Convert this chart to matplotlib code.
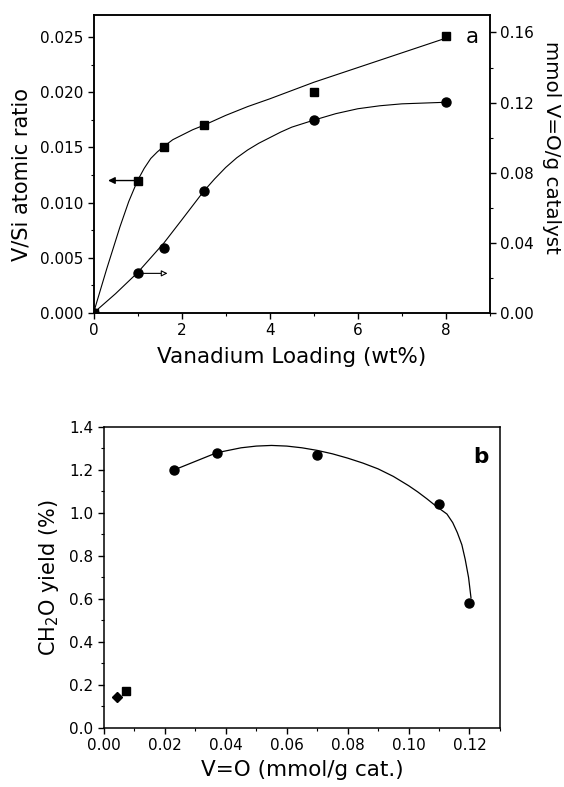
import matplotlib
matplotlib.use('Agg')
import matplotlib.pyplot as plt
from matplotlib.ticker import MultipleLocator, FormatStrFormatter

plt.rcParams['font.family'] = ['DejaVu Sans']

# panel a: V/Si ratio (left axis) and V=O content (right axis) vs loading
loading = [0, 1, 1.6, 2.5, 5, 8]
vsi_ratio = [0.0, 0.0120, 0.0150, 0.0170, 0.0200, 0.0251]
vo_content = [0.0, 0.0226, 0.0368, 0.0694, 0.1098, 0.1202]

# guide curves
vsi_curve_x = [0, 0.3, 0.6, 0.8, 1.0, 1.15, 1.3, 1.45, 1.6, 1.8, 2.0, 2.25, 2.5,
               3.0, 3.5, 4.0, 5.0, 6.5, 8.0]
vsi_curve_y = [0.0, 0.0040, 0.0078, 0.0101, 0.0120, 0.0131, 0.0140, 0.0146,
               0.0151, 0.0157, 0.0161, 0.0166, 0.0170, 0.0179, 0.0187, 0.0194,
               0.0209, 0.0229, 0.0249]
vo_curve_x = [0, 0.5, 1.0, 1.6, 2.0, 2.5, 2.75, 3.0, 3.25, 3.5, 3.75, 4.0, 4.25,
              4.5, 5.0, 5.5, 6.0, 6.5, 7.0, 8.0]
vo_curve_y = [0.0, 0.0110, 0.0230, 0.0400, 0.0530, 0.0694, 0.0765, 0.0830,
              0.0885, 0.0930, 0.0968, 0.1000, 0.1032, 0.1060, 0.1100, 0.1137,
              0.1165, 0.1182, 0.1193, 0.1202]

# panel b: CH2O yield vs V=O content
vo_b = [0.023, 0.037, 0.070, 0.110, 0.120]
yield_b = [1.20, 1.28, 1.27, 1.04, 0.58]
sq_b_x, sq_b_y = [0.0072], [0.174]
dia_b_x, dia_b_y = [0.0042], [0.143]

yield_curve_x = [0.023, 0.030, 0.037, 0.045, 0.050, 0.055, 0.060, 0.065, 0.070,
                 0.075, 0.080, 0.085, 0.090, 0.095, 0.100, 0.103, 0.106, 0.109,
                 0.1126, 0.1145, 0.116, 0.1175, 0.1186, 0.1197, 0.1205]
yield_curve_y = [1.20, 1.24, 1.28, 1.303, 1.311, 1.314, 1.311, 1.303, 1.291,
                 1.275, 1.255, 1.232, 1.205, 1.170, 1.127, 1.098, 1.066, 1.032,
                 0.995, 0.955, 0.909, 0.852, 0.784, 0.700, 0.605]

fig = plt.figure(figsize=(5.64, 7.87), dpi=100)

ax1 = fig.add_axes([0.1658, 0.6023, 0.703, 0.3787])
ax2 = ax1.twinx()
ax3 = fig.add_axes([0.1844, 0.075, 0.702, 0.3825])

for ax in (ax1, ax2, ax3):
    for sp in ax.spines.values():
        sp.set_linewidth(1.1)
    ax.tick_params(which='major', direction='out', length=4, width=1, labelsize=11)
    ax.tick_params(which='minor', direction='out', length=2, width=0.8)

# panel a
ax1.plot(vsi_curve_x, vsi_curve_y, color='black', lw=0.8)
ax1.plot(loading, vsi_ratio, 's', color='black', ms=5.5)
ax2.plot(vo_curve_x, vo_curve_y, color='black', lw=0.8)
ax2.plot(loading, vo_content, 'o', color='black', ms=6.5)

ax1.set_xlim(0, 9)
ax1.set_ylim(0, 0.027)
ax2.set_ylim(0, 0.17)
ax1.xaxis.set_major_locator(MultipleLocator(2))
ax1.xaxis.set_minor_locator(MultipleLocator(1))
ax1.yaxis.set_major_locator(MultipleLocator(0.005))
ax1.yaxis.set_minor_locator(MultipleLocator(0.0025))
ax1.yaxis.set_major_formatter(FormatStrFormatter('%.3f'))
ax2.yaxis.set_major_locator(MultipleLocator(0.04))
ax2.yaxis.set_minor_locator(MultipleLocator(0.02))
ax2.yaxis.set_major_formatter(FormatStrFormatter('%.2f'))

ax1.set_xlabel('Vanadium Loading (wt%)', fontsize=15.5, labelpad=6)
ax1.set_ylabel('V/Si atomic ratio', fontsize=15, labelpad=6)
ax1.yaxis.label.set_y(0.463)
ax2.set_ylabel('mmol V=O/g catalyst', fontsize=14.3, rotation=270, labelpad=19)
ax2.yaxis.label.set_y(0.554)

ax1.annotate('', xy=(0.33, 0.012), xytext=(1.0, 0.012),
             arrowprops=dict(arrowstyle='-|>', color='black', lw=1.0,
                             mutation_scale=10, shrinkA=0, shrinkB=0))
ax2.annotate('', xy=(1.68, 0.0226), xytext=(1.0, 0.0226),
             arrowprops=dict(arrowstyle='-|>', edgecolor='black', facecolor='white',
                             lw=0.8, mutation_scale=9, shrinkA=0, shrinkB=0))
ax1.text(8.6, 0.0250, 'a', fontsize=15.5, ha='center', va='center')

# panel b
ax3.plot(yield_curve_x, yield_curve_y, color='black', lw=0.9)
ax3.plot(vo_b, yield_b, 'o', color='black', ms=6.5)
ax3.plot(sq_b_x, sq_b_y, 's', color='black', ms=5.5)
ax3.plot(dia_b_x, dia_b_y, 'D', color='black', ms=5.5)

ax3.set_xlim(0, 0.13)
ax3.set_ylim(0, 1.4)
ax3.xaxis.set_major_locator(MultipleLocator(0.02))
ax3.xaxis.set_minor_locator(MultipleLocator(0.01))
ax3.xaxis.set_major_formatter(FormatStrFormatter('%.2f'))
ax3.yaxis.set_major_locator(MultipleLocator(0.2))
ax3.yaxis.set_minor_locator(MultipleLocator(0.1))
ax3.yaxis.set_major_formatter(FormatStrFormatter('%.1f'))

ax3.set_xlabel('V=O (mmol/g cat.)', fontsize=15.5, labelpad=5)
ax3.set_ylabel('CH$_2$O yield (%)', fontsize=15, labelpad=6)
ax3.text(0.1238, 1.26, 'b', fontsize=15.5, fontweight='bold', ha='center', va='center')

fig.savefig('out.png', dpi=100)
